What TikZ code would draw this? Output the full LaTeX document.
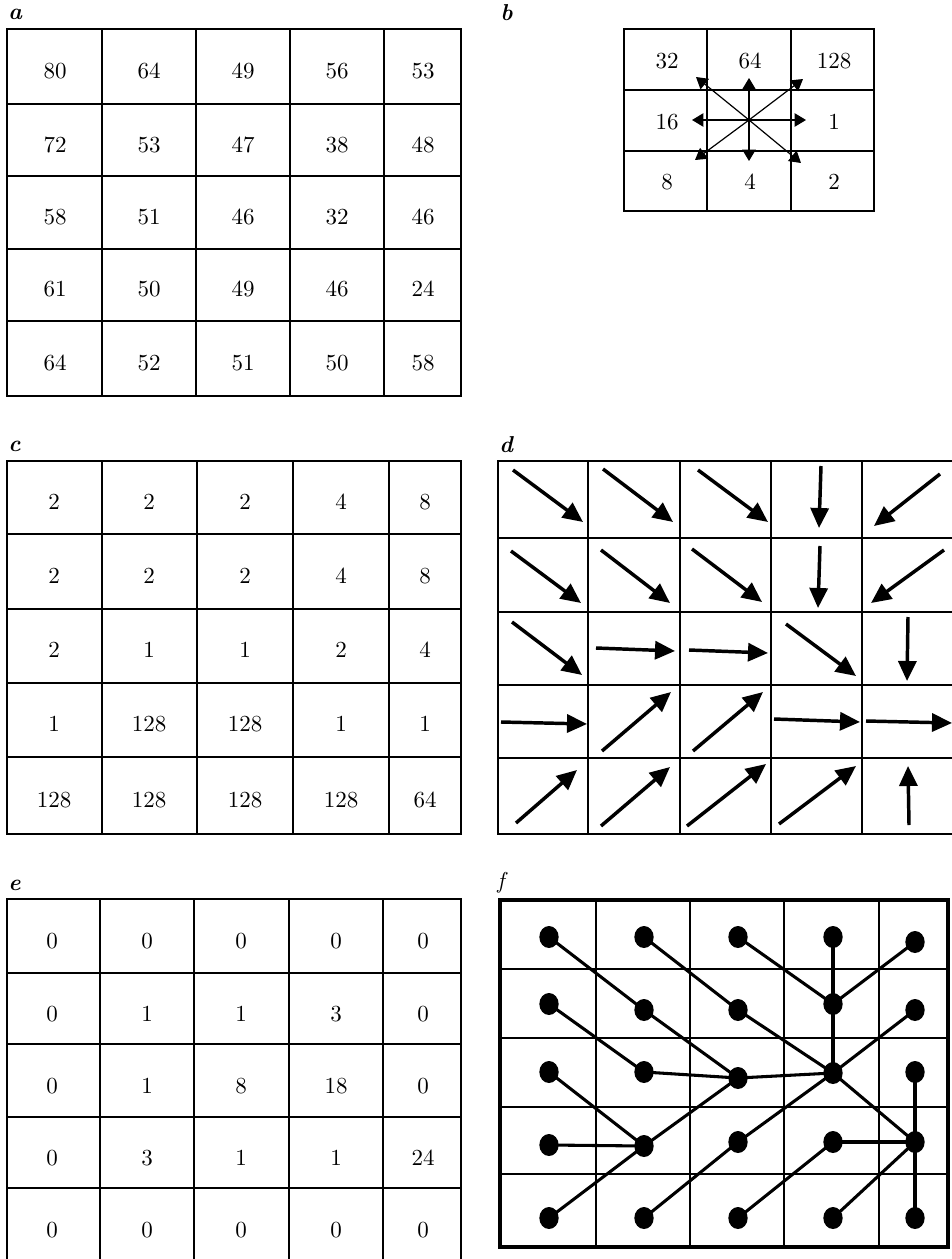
\documentclass[tikz,border=0pt]{standalone}
\usepackage{fontspec}
\setmainfont{lmroman10-regular.otf}[BoldFont=lmroman10-bold.otf,ItalicFont=lmroman10-italic.otf,BoldItalicFont=lmroman10-bolditalic.otf]
\usetikzlibrary{arrows.meta,shapes.geometric}
\tikzset{
  grid/.style={line width=1.5pt,black},
  thingrid/.style={line width=0.9pt,black},
  cell/.style={font=\fontsize{17.25}{20}\selectfont,inner sep=0pt},
  panellabel/.style={anchor=base west,inner sep=0pt,font=\fontsize{17.25}{20}\selectfont},
  barrow/.style={line width=0.9pt,-{Triangle[length=8.5pt,width=10pt]}},
  darrow/.style={line width=2.6pt,-{Triangle[length=15pt,width=13.5pt]}},
  dot/.style={ellipse,fill=black,inner sep=0pt,minimum width=14.5pt,minimum height=16.5pt},
  link/.style={line width=2.3pt,black},
}
\begin{document}
\begin{tikzpicture}[x=0.75pt,y=-0.75pt]
\useasboundingbox (0,0) rectangle (951,1259);

% ---------- labels ----------
\node[panellabel] (la) at (8,20) {\textbf{\textit{a}}};
\node[panellabel] (lb) at (500,21) {\textbf{\textit{b}}};
\node[panellabel] (lc) at (8,451) {\textbf{\textit{c}}};
\node[panellabel] (ld) at (499,452) {\textbf{\textit{d}}};
\node[panellabel] (le) at (8,890) {\textbf{\textit{e}}};
\node[panellabel] (lf) at (497,888) {\textit{f}};

% ---------- panel a ----------
\draw[grid] (7,29) rectangle (461,396);
\foreach \x in {102,196,290,384} \draw[grid] (\x,29) -- (\x,396);
\foreach \y in {104,176,249,321} \draw[grid] (7,\y) -- (461,\y);
\foreach \row [count=\r] in {{80,64,49,56,53},{72,53,47,38,48},{58,51,46,32,46},{61,50,49,46,24},{64,52,51,50,58}}{
  \foreach \v [count=\c] in \row {
    \pgfmathsetmacro\px{{55,149,243,337,423}[\c-1]}
    \pgfmathsetmacro\py{{71,145,217,289,363}[\r-1]}
    \node[cell] (a\r\c) at (\px,\py) {\v};
  }
}

% ---------- panel b ----------
\draw[thingrid] (624,29) rectangle (874,211);
\foreach \x in {707,791} \draw[thingrid] (\x,29) -- (\x,211);
\foreach \y in {90,151} \draw[thingrid] (624,\y) -- (874,\y);
\node[cell] (b11) at (667,61) {32};
\node[cell] (b12) at (750,61) {64};
\node[cell] (b13) at (834,61) {128};
\node[cell] (b21) at (667,122) {16};
\node[cell] (b23) at (834,122) {1};
\node[cell] (b31) at (667,182) {8};
\node[cell] (b32) at (750,182) {4};
\node[cell] (b33) at (834,182) {2};
\coordinate (bc) at (749,120);
\foreach \n/\tx/\ty in {up/749/78,dn/749/161,lf/692/120,rt/806/120,nw/696/77,ne/803/79,sw/695/160,se/801/163}{
  \coordinate (b\n) at (\tx,\ty);
  \draw[barrow] (bc) -- (b\n);
}

% ---------- panel c ----------
\draw[grid] (7,461) rectangle (461,834);
\foreach \x in {102,197,293,389} \draw[grid] (\x,461) -- (\x,834);
\foreach \y in {534,609,683,757} \draw[grid] (7,\y) -- (461,\y);
\foreach \row [count=\r] in {{2,2,2,4,8},{2,2,2,4,8},{2,1,1,2,4},{1,128,128,1,1},{128,128,128,128,64}}{
  \foreach \v [count=\c] in \row {
    \pgfmathsetmacro\px{{54,149,245,341,425}[\c-1]}
    \pgfmathsetmacro\py{{502,576,650,724,800}[\r-1]}
    \node[cell] (c\r\c) at (\px,\py) {\v};
  }
}

% ---------- panel d ----------
\draw[grid] (498,461) rectangle (954,834);
\foreach \x in {588,680,771,862} \draw[grid] (\x,461) -- (\x,834);
\foreach \y in {538,612,685,758} \draw[grid] (498,\y) -- (954,\y);
\foreach \sx/\sy/\ex/\ey [count=\i] in {
  513/470/583/522, 603/469/673/522, 698/470/768/522, 821/466/819/528, 940/474/874/526,
  511/551/581/603, 601/550/670/603, 692/549/762/602, 820/546/818/608, 944/550/871/603,
  512/622/582/675, 596/648/675/651, 689/650/768/653, 786/624/856/676, 908/617/907/681,
  501/722/587/724, 602/751/671/692, 693/751/763/692, 774/719/860/722, 866/721/952/723,
  516/823/577/770, 601/826/670/767, 687/826/766/764, 779/824/856/766, 909/825/908/766}{
  \coordinate (ds\i) at (\sx,\sy);
  \coordinate (de\i) at (\ex,\ey);
  \draw[darrow] (ds\i) -- (de\i);
}

% ---------- panel e ----------
\draw[grid] (7,899) rectangle (461,1262);
\foreach \x in {100,194,289,383} \draw[grid] (\x,899) -- (\x,1262);
\foreach \y in {973,1044,1117,1188} \draw[grid] (7,\y) -- (461,\y);
\foreach \row [count=\r] in {{0,0,0,0,0},{0,1,1,3,0},{0,1,8,18,0},{0,3,1,1,24},{0,0,0,0,0}}{
  \foreach \v [count=\c] in \row {
    \pgfmathsetmacro\px{{52,147,241,336,423}[\c-1]}
    \pgfmathsetmacro\py{{941,1014,1086,1158,1230}[\r-1]}
    \node[cell] (e\r\c) at (\px,\py) {\v};
  }
}

% ---------- panel f ----------
\foreach \x in {596,690,784,879} \draw[thingrid] (\x,900) -- (\x,1247);
\foreach \y in {969,1038,1107,1174} \draw[thingrid] (500,\y) -- (948,\y);
\draw[line width=2.6pt] (500,900) rectangle (948,1247);
% dots
\node[dot] (f11) at (549,937) {};
\node[dot] (f12) at (644,937) {};
\node[dot] (f13) at (738,937) {};
\node[dot] (f14) at (833,937) {};
\node[dot] (f15) at (915,942) {};
\node[dot] (f21) at (549,1004) {};
\node[dot] (f22) at (644,1010) {};
\node[dot] (f23) at (738,1010) {};
\node[dot] (f24) at (833,1004) {};
\node[dot] (f25) at (915,1010) {};
\node[dot] (f31) at (549,1072) {};
\node[dot] (f32) at (644,1072) {};
\node[dot] (f33) at (738,1078) {};
\node[dot] (f34) at (833,1073) {};
\node[dot] (f35) at (915,1072) {};
\node[dot] (f41) at (549,1145) {};
\node[dot] (f42) at (644,1146) {};
\node[dot] (f43) at (738,1142) {};
\node[dot] (f44) at (833,1142) {};
\node[dot] (f45) at (915,1142) {};
\node[dot] (f51) at (549,1218) {};
\node[dot] (f52) at (644,1218) {};
\node[dot] (f53) at (738,1218) {};
\node[dot] (f54) at (833,1218) {};
\node[dot] (f55) at (915,1218) {};
% links (flow directions)
\foreach \a/\b in {11/22,12/23,13/24,14/24,15/24,
                   21/32,22/33,23/34,24/34,25/34,
                   31/42,32/33,33/34,34/45,35/45,
                   41/42,42/33,43/34,44/45,
                   51/42,52/43,53/44,54/45,55/45}{
  \draw[link] (f\a.center) -- (f\b.center);
}
\end{tikzpicture}
\end{document}
